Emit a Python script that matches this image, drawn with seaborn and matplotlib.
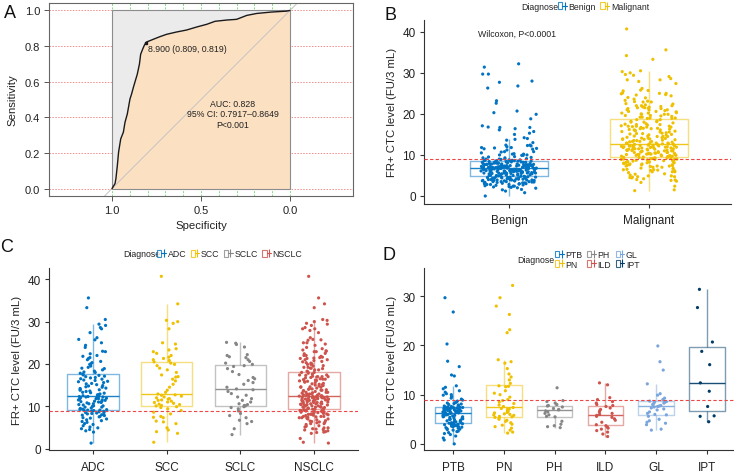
import numpy as np
import pandas as pd
import matplotlib
matplotlib.use("Agg")
import matplotlib.pyplot as plt
import seaborn as sns
from matplotlib.patches import Patch, Rectangle
from matplotlib.lines import Line2D
from matplotlib.legend_handler import HandlerTuple

# ---------------- data ----------------
# Panel A: ROC curve (specificity, sensitivity)
roc_spec = [1.0, 0.983, 0.978, 0.970, 0.963, 0.951, 0.936, 0.927, 0.914, 0.899, 0.890,
            0.880, 0.869, 0.858, 0.846, 0.839, 0.828, 0.818, 0.809, 0.805, 0.768, 0.730,
            0.693, 0.637, 0.581, 0.524, 0.468, 0.421, 0.356, 0.300, 0.243, 0.187, 0.103,
            0.019, 0.0]
roc_sens = [0.0, 0.028, 0.056, 0.130, 0.205, 0.279, 0.317, 0.372, 0.419, 0.503, 0.531,
            0.568, 0.605, 0.642, 0.698, 0.754, 0.782, 0.805, 0.819, 0.823, 0.838, 0.853,
            0.866, 0.879, 0.890, 0.907, 0.922, 0.939, 0.946, 0.950, 0.972, 0.983, 0.991,
            0.996, 1.0]
best_spec, best_sens = 0.809, 0.819

# Panel D groups (benign diseases)
PTB = [0.0, 0.8, 1.2, 1.6, 1.9, 2.1, 2.3, 2.5, 2.6, 2.8, 2.9, 3.0, 3.1, 3.2, 3.3, 3.4, 3.5, 3.5,
       3.6, 3.7, 3.7, 3.8, 3.8, 3.9, 3.9, 4.0, 4.0, 4.1, 4.1, 4.2,
       4.3, 4.3, 4.4, 4.5, 4.6, 4.7, 4.8, 4.9, 5.0, 5.0, 5.1, 5.2, 5.3, 5.4, 5.5, 5.5, 5.6, 5.7,
       5.8, 5.8, 5.9, 5.9, 6.0, 6.0, 6.1, 6.1, 6.2, 6.2, 6.3, 6.3,
       6.4, 6.4, 6.5, 6.5, 6.5, 6.6, 6.6, 6.7, 6.7, 6.8, 6.8, 6.8, 6.9, 6.9, 7.0, 7.0, 7.0, 7.1,
       7.1, 7.1, 7.2, 7.2, 7.2, 7.3, 7.3, 7.4, 7.4, 7.4, 7.5, 7.5,
       7.6, 7.7, 7.8, 7.9, 8.0, 8.1, 8.2, 8.3, 8.4, 8.5, 8.7, 8.9, 9.1, 9.3, 9.6, 9.9, 10.0, 10.2,
       10.5, 10.8, 11.2, 11.5, 11.8, 13.8, 14.0, 15.7, 16.8, 20.3, 26.8, 29.7]
PN = [2.2, 2.4, 2.8, 3.2, 3.5, 3.8, 4.0, 4.3, 4.6, 4.8, 5.0, 5.2, 5.4,
      5.5, 5.6, 5.8, 5.9, 6.0, 6.1, 6.3, 6.4, 6.5, 6.7, 6.8, 7.0, 7.1, 7.2,
      7.4, 7.6, 7.9, 8.2, 8.5, 8.8, 9.0, 9.5, 10.0, 10.3, 10.8, 11.6, 11.7, 11.8,
      12.3, 13.0, 13.6, 14.2, 15.3, 16.4, 16.7, 17.1, 22.6, 23.2, 26.3, 28.0, 29.7, 32.2]
PH = [3.3, 3.5, 3.7, 4.0, 4.6, 5.5, 5.6, 5.9, 6.2, 6.5, 6.7, 6.9, 7.0, 7.2, 7.5, 7.7, 7.8,
      8.0, 8.3, 8.6, 8.8, 11.4]
ILD = [1.5, 2.0, 2.4, 2.7, 3.0, 3.2, 3.4, 3.7, 3.9, 4.4, 4.8, 5.1, 5.4, 5.6, 5.8, 6.0, 6.2,
       6.5, 6.8, 7.0, 7.3, 7.6, 7.8, 8.0, 8.3, 8.6, 9.0, 9.4, 12.0, 12.4]
GL = [2.8, 3.0, 3.9, 4.2, 4.4, 4.7, 5.0, 5.6, 5.9, 6.0, 6.2, 6.5, 6.9, 7.1, 7.3, 7.5, 7.6,
      7.7, 7.8, 8.0, 8.2, 8.3, 8.4, 8.5, 8.6, 8.7, 9.0, 9.3, 9.9, 10.2, 12.2, 15.0, 16.7, 19.9]
IPT = [4.5, 5.6, 5.7, 7.6, 10.7, 12.4, 16.1, 18.8, 20.7, 27.7, 31.4]

# Panel C groups (lung cancer)
ADC = [1.3, 3.9, 4.2, 4.5, 4.7, 4.9, 5.1, 5.4, 5.7, 5.9, 6.2, 6.4, 6.6, 6.8, 7.0, 7.2, 7.3,
       7.5, 7.6, 7.8, 7.9, 8.0, 8.1, 8.2, 8.3, 8.4, 8.5, 8.6, 8.7, 8.8, 8.9, 9.0, 9.0, 9.1, 9.1,
       9.2, 9.3, 9.3, 9.5, 9.6, 9.8, 9.8, 10.0, 10.1, 10.1, 10.3, 10.4, 10.6, 10.6, 10.8, 10.9,
       11.0, 11.1, 11.2, 11.2, 11.4, 11.5, 11.5, 11.7, 11.8, 11.8, 11.9, 12.0, 12.0, 12.1, 12.2,
       12.2, 12.3, 12.3, 12.4,
       12.5, 12.7, 12.8, 12.9, 13.1, 13.2, 13.3, 13.5, 13.6, 13.8, 13.9, 14.0, 14.2, 14.3, 14.5,
       14.6, 14.8, 14.9, 15.1, 15.3, 15.4, 15.6, 15.8, 15.9, 16.1, 16.2, 16.4, 16.5, 16.7, 16.8,
       17.0, 17.1, 17.3, 17.4, 17.6,
       17.8, 18.0, 18.1, 18.3, 18.6, 18.9, 19.0, 19.2, 19.5, 19.9, 20.0, 20.3, 20.6, 21.0, 21.3,
       21.5, 21.8, 22.0, 22.4, 22.9, 23.0, 23.9, 24.4, 25.0, 25.7, 25.8, 26.2, 27.4, 28.3, 28.6,
       29.1, 29.4, 30.5, 33.3, 35.6]
SCC = [1.5, 3.6, 4.0, 4.4, 4.9, 5.9, 6.3, 6.5, 7.3, 7.4, 7.6, 8.2, 8.6, 9.0, 9.4, 9.7, 9.9,
       10.1, 10.2, 10.4, 10.5, 10.7, 10.9, 11.0, 11.2, 11.4, 11.5, 11.7, 11.8, 12.0, 12.2, 12.4,
       12.6, 12.7,
       12.9, 13.3, 13.8, 14.5, 15.2, 16.0, 16.4, 16.9, 17.0, 17.4, 18.0, 18.6, 19.0, 19.6, 19.9,
       20.2, 20.5,
       20.8, 21.0, 21.3, 21.6, 22.0, 22.5, 22.9, 23.3, 23.6, 24.7, 25.0, 28.3, 29.6, 30.0, 30.3,
       34.2, 40.7]
SCLC = [3.3, 4.7, 5.9, 6.4, 6.7, 7.3, 7.8, 8.3, 8.9, 9.4, 9.7, 9.9,
        10.1, 10.2, 10.4, 10.6, 11.0, 11.4, 11.8, 12.2, 12.6, 13.0, 13.5, 13.9,
        14.1, 14.5, 15.2, 15.6, 16.1, 16.5, 16.8, 17.5, 18.2, 18.9, 19.4, 19.6,
        19.9, 20.2, 20.6, 21.0, 21.5, 21.7, 22.0, 22.2, 24.0, 24.6, 24.9, 25.1]
NSCLC_other = [2.4, 3.8, 4.6, 5.3, 6.1, 7.0, 7.6, 8.1, 8.7, 9.2, 9.8, 10.3, 10.6, 11.1, 11.4,
               11.9, 12.2, 12.5, 12.9, 13.3, 13.7, 14.1, 14.6, 15.0, 15.7, 16.3, 17.0, 19.2,
               21.4, 23.1, 25.6, 27.9]
NSCLC = ADC + SCC + NSCLC_other

benign_groups = ["PTB", "PN", "PH", "ILD", "GL", "IPT"]
cancer_groups = ["ADC", "SCC", "SCLC", "NSCLC"]
two_groups = ["Benign", "Malignant"]
cutoff = 8.9

Benign = PTB + PN + PH + ILD + GL + IPT
Malignant = NSCLC + SCLC

jco = ["#0073C2", "#EFC000", "#868686", "#CD534C", "#7AA6DC", "#003C67"]

# ---------------- style ----------------
sns.set_style("ticks")
plt.rcParams['font.family'] = ['Liberation Sans', 'DejaVu Sans']
np.random.seed(7)

W, H = 734, 477
fig = plt.figure(figsize=(7.34, 4.77), dpi=100)
fig.patch.set_facecolor("white")


def axes_px(l, t, r, b):
    return fig.add_axes([l / W, 1 - b / H, (r - l) / W, (b - t) / H])


def fx(px):
    return px / W


def fy(py):
    return 1 - py / H


# ---------------- Panel A ----------------
axA = axes_px(49, 4.3, 353, 196.7)
axA.set_xlim(1.354, -0.354)
axA.set_ylim(-0.04, 1.04)
for yv in [0.0, 0.2, 0.4, 0.6, 0.8, 1.0]:
    axA.axhline(yv, color="#F28C8C", ls=(0, (1.5, 1.5)), lw=0.7, zorder=0)
for xv in [1.0, 0.9, 0.8, 0.7, 0.6, 0.5, 0.4, 0.3, 0.2, 0.1, 0.0]:
    axA.axvline(xv, color="#7CE07C", ls=(0, (2, 1.5)), lw=0.7, zorder=0)
axA.add_patch(Rectangle((0, 0), 1, 1, facecolor="#EBEBEB", edgecolor="none", zorder=1))
axA.fill_between(roc_spec, roc_sens, 0, color="#FCE0C2", lw=0, zorder=2)
axA.add_patch(Rectangle((0, 0), 1, 1, facecolor="none", edgecolor="#8C8C8C", lw=0.8, zorder=2.2))
axA.plot([1.2, -0.2], [-0.2, 1.2], color="#C4C4C4", lw=0.7, zorder=2.5)
axA.plot(roc_spec, roc_sens, color="#1a1a1a", lw=1.0, zorder=3)
axA.plot([best_spec], [best_sens], "s", color="#1a1a1a", ms=2, zorder=4)
axA.text(0.795, 0.785, "8.900 (0.809, 0.819)", fontsize=6.3, ha="left", va="center",
         color="#222222", zorder=5)
axA.text(0.32, 0.42, "AUC: 0.828\n95% CI: 0.7917\u20130.8649\nP<0.001", fontsize=6.3,
         ha="center", va="center", linespacing=1.25, color="#222222", zorder=5)
axA.set_xticks([1.0, 0.5, 0.0])
axA.set_xticklabels(["1.0", "0.5", "0.0"])
axA.set_yticks([0.0, 0.2, 0.4, 0.6, 0.8, 1.0])
axA.set_yticklabels(["0.0", "0.2", "0.4", "0.6", "0.8", "1.0"])
axA.tick_params(labelsize=8, length=3.5, width=0.7, color="#555555", labelcolor="#222222", pad=3)
axA.set_xlabel("Specificity", fontsize=8.2, labelpad=4, color="#222222")
axA.set_ylabel("Sensitivity", fontsize=8.2, labelpad=5, color="#222222")
for s in axA.spines.values():
    s.set_color("#666666")
    s.set_linewidth(0.8)


# ---------------- helpers for box panels ----------------
def box_panel(ax, groups, values, pal, width, xlim, ylim, yticks):
    df = pd.DataFrame({
        "Diagnose": np.concatenate([[g] * len(v) for g, v in zip(groups, values)]),
        "value": np.concatenate(values),
    })
    palette = dict(zip(groups, pal))
    sns.stripplot(data=df, x="Diagnose", y="value", hue="Diagnose", order=groups,
                  hue_order=groups, palette=palette, jitter=0.2, size=2.3, linewidth=0,
                  dodge=False, legend=False, ax=ax, zorder=2)
    sns.boxplot(data=df, x="Diagnose", y="value", hue="Diagnose", order=groups,
                hue_order=groups, palette=palette, fill=False, width=width,
                showfliers=False, showcaps=False, linewidth=1.0, dodge=False,
                legend=False, ax=ax,
                boxprops=dict(alpha=0.5), whiskerprops=dict(alpha=0.5),
                medianprops=dict(alpha=0.9))
    ax.axhline(cutoff, color="#EE4444", ls=(0, (3, 2)), lw=0.8, zorder=4)
    ax.set_xlim(*xlim)
    ax.set_ylim(*ylim)
    ax.set_yticks(yticks)
    ax.set_yticklabels([str(t) for t in yticks])
    ax.set_xlabel("")
    ax.set_ylabel("FR+ CTC level (FU/3 mL)", fontsize=8.2, labelpad=4, color="#222222")
    ax.tick_params(labelsize=8.5, length=3, width=0.8, color="#333333",
                   labelcolor="#222222", pad=3)
    ax.tick_params(axis="x", pad=4.5)
    for side in ["top", "right"]:
        ax.spines[side].set_visible(False)
    for side in ["left", "bottom"]:
        ax.spines[side].set_color("#333333")
        ax.spines[side].set_linewidth(0.8)


def legend_handles(groups, pal):
    hs = []
    for g, c in zip(groups, pal):
        hs.append((Patch(facecolor="white", edgecolor=c, lw=0.8, alpha=0.8),
                   Line2D([], [], color=c, lw=0.8, marker="|", markersize=6,
                          markeredgewidth=0.8)))
    return hs


def add_legend(groups, pal, title_x, y, entries_x, ncol, labelspacing=0.2):
    fig.text(fx(title_x), fy(y), "Diagnose", fontsize=6.3, ha="left", va="center",
             color="#222222")
    fig.legend(legend_handles(groups, pal), groups, loc="center left",
               bbox_to_anchor=(fx(entries_x), fy(y)), ncol=ncol, frameon=False,
               fontsize=6.3, handlelength=1.0, handleheight=0.8, handletextpad=0.2,
               columnspacing=0.5, borderpad=0, borderaxespad=0,
               labelspacing=labelspacing,
               handler_map={tuple: HandlerTuple(ndivide=None, pad=0)})


# ---------------- Panel B ----------------
axB = axes_px(424, 20.7, 731, 205)
box_panel(axB, two_groups, [Benign, Malignant], jco[:2], 0.56,
          (-0.607, 1.586), (-1.95, 42.95), [0, 10, 20, 30, 40])
axB.text(0.06, 39.7, "Wilcoxon, P<0.0001", fontsize=6.3, ha="center", va="center",
         color="#222222")
add_legend(two_groups, jco[:2], 521.7, 7.3, 558, 2)

# ---------------- Panel C ----------------
axC = axes_px(49, 268.7, 358, 451.3)
box_panel(axC, cancer_groups, [ADC, SCC, SCLC, NSCLC], jco[:4], 0.7,
          (-0.6, 3.6), (-0.4, 42.74), [0, 10, 20, 30, 40])
add_legend(cancer_groups, jco[:4], 123.3, 254.7, 157, 4)

# ---------------- Panel D ----------------
axD = axes_px(424, 268.7, 734, 451.3)
box_panel(axD, benign_groups, [PTB, PN, PH, ILD, GL, IPT], jco, 0.7,
          (-0.57, 5.53), (-1.3, 35.8), [0, 10, 20, 30])
add_legend(benign_groups, jco, 517.7, 260.3, 555, 3, labelspacing=0.05)

# ---------------- panel letters ----------------
for letter, x, y in [("A", 9.5, 13.5), ("B", 390, 16), ("C", 7, 248), ("D", 389, 255)]:
    fig.text(fx(x), fy(y), letter, fontsize=13, ha="center", va="center", color="#111111")

fig.savefig("out.png", dpi=100, facecolor="white")
